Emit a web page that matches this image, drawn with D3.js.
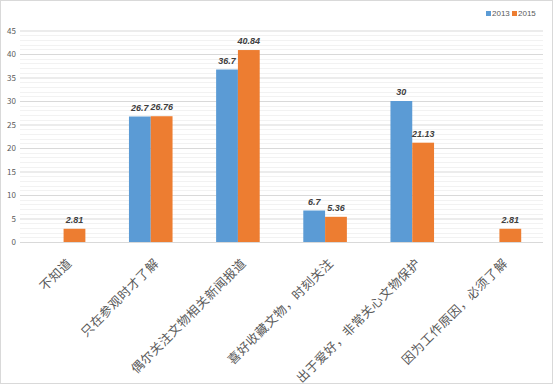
<!DOCTYPE html>
<html>
<head>
<meta charset="utf-8">
<style>
  body { margin: 0; background: #fff; }
  text { font-family: "Noto Sans CJK SC", "Liberation Sans", sans-serif; }
</style>
<script src="https://d3js.org/d3.v7.min.js"></script>
</head>
<body>
<div id="chart"></div>
<script>
// data
var categories = ["不知道", "只在参观时才了解", "偶尔关注文物相关新闻报道", "喜好收藏文物，时刻关注", "出于爱好，非常关心文物保护", "因为工作原因，必须了解"];
var series = ["2013", "2015"];
var values2013 = [null, 26.7, 36.7, 6.7, 30, null];
var values2015 = [2.81, 26.76, 40.84, 5.36, 21.13, 2.81];
var yTicks = [0, 5, 10, 15, 20, 25, 30, 35, 40, 45];
var colors = ["#5B9BD5", "#ED7D31"];

var W = 553, H = 385;
var margin = {top: 30, right: 10, bottom: 143, left: 20};

var svg = d3.select("#chart").append("svg")
  .attr("width", W).attr("height", H);

// outer frame
svg.append("rect")
  .attr("x", 0.5).attr("y", 0.5)
  .attr("width", W - 1).attr("height", H - 2)
  .attr("fill", "#fff").attr("stroke", "#d9d9d9");

var x = d3.scaleBand()
  .domain(categories)
  .range([margin.left, W - margin.right])
  .paddingInner(0.5).paddingOuter(0.25);

var xs = d3.scaleBand().domain(series).range([0, x.bandwidth()]);

var y = d3.scaleLinear()
  .domain([0, 45])
  .range([H - margin.bottom, margin.top + 0.5]);

// minor gridlines
svg.append("g")
  .selectAll("line")
  .data(d3.range(0, 46, 1).filter(function(v) { return v % 5 !== 0; }))
  .enter().append("line")
    .attr("x1", margin.left).attr("x2", W - margin.right)
    .attr("y1", function(d) { return Math.round(y(d)) + 0.5; })
    .attr("y2", function(d) { return Math.round(y(d)) + 0.5; })
    .attr("stroke", "#f2f2f2");

// y axis with major gridlines
var yAxis = svg.append("g")
  .attr("transform", "translate(" + margin.left + ",0)")
  .call(d3.axisLeft(y).tickValues(yTicks).tickSize(-(W - margin.right - margin.left)).tickPadding(4));
yAxis.select(".domain").remove();
yAxis.selectAll(".tick line").attr("stroke", "#d9d9d9");
yAxis.selectAll(".tick text")
  .attr("fill", "#595959")
  .style("font-size", "8px");

// bars
var rows = categories.map(function(c, i) {
  return {cat: c, vals: [values2013[i], values2015[i]]};
});

var groups = svg.append("g").selectAll("g")
  .data(rows).enter().append("g")
  .attr("transform", function(d) { return "translate(" + x(d.cat) + ",0)"; });

groups.selectAll("rect")
  .data(function(d) {
    return d.vals.map(function(v, j) { return {s: series[j], v: v, j: j}; })
      .filter(function(e) { return e.v != null; });
  })
  .enter().append("rect")
    .attr("x", function(d) { return xs(d.s); })
    .attr("y", function(d) { return y(d.v); })
    .attr("width", xs.bandwidth())
    .attr("height", function(d) { return y(0) - y(d.v); })
    .attr("fill", function(d) { return colors[d.j]; });

groups.selectAll("text")
  .data(function(d) {
    return d.vals.map(function(v, j) { return {s: series[j], v: v, j: j}; })
      .filter(function(e) { return e.v != null; });
  })
  .enter().append("text")
    .attr("x", function(d) { return xs(d.s) + xs.bandwidth() / 2; })
    .attr("y", function(d) { return y(d.v) - 6; })
    .attr("text-anchor", "middle")
    .attr("fill", "#404040")
    .style("font-family", "'Liberation Sans', sans-serif")
    .style("font-size", "9px")
    .style("font-weight", "bold")
    .style("font-style", "italic")
    .text(function(d) { return d.v; });

// x axis labels
var xAxis = svg.append("g")
  .attr("transform", "translate(0," + y(0) + ")")
  .call(d3.axisBottom(x).tickSize(0).tickPadding(0));
xAxis.select(".domain").remove();
xAxis.selectAll(".tick text")
  .attr("fill", "#595959")
  .style("font-size", "12.5px")
  .style("letter-spacing", "0.5px")
  .attr("text-anchor", "end")
  .attr("dy", null)
  .attr("transform", "translate(9,22) rotate(-45)");

// legend
var legend = svg.append("g").selectAll("g")
  .data(series).enter().append("g")
  .attr("transform", function(d, i) { return "translate(" + (486 + i * 26) + ",11)"; });
legend.append("rect")
  .attr("width", 5).attr("height", 5)
  .attr("fill", function(d, i) { return colors[i]; });
legend.append("text")
  .attr("x", 6).attr("y", 5)
  .attr("fill", "#595959")
  .style("font-family", "'Liberation Sans', sans-serif")
  .style("font-size", "8px")
  .text(function(d) { return d; });
</script>
</body>
</html>
